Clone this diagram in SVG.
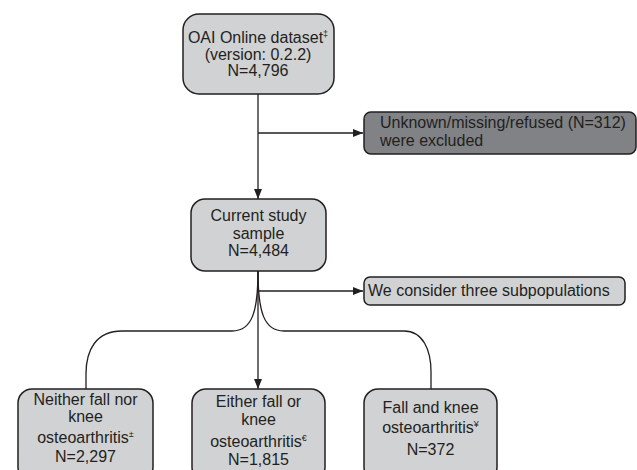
<svg xmlns="http://www.w3.org/2000/svg" width="637" height="470" viewBox="0 0 637 470">
  <style>
    .box { fill: #d1d2d4; stroke: #231f20; stroke-width: 1.5; }
    .dark { fill: #808285; stroke: #231f20; stroke-width: 1.5; }
    .t { font-family: "Liberation Sans", Arial, sans-serif; font-size: 16px; fill: #231f20; }
    .c { text-anchor: middle; }
    .sup { font-size: 9px; }
    .ln { fill: none; stroke: #231f20; stroke-width: 1.3; }
  </style>
  <defs>
    <marker id="arr" markerUnits="userSpaceOnUse" markerWidth="10" markerHeight="8" refX="10" refY="4" orient="auto">
      <path d="M0,0 L10,4 L0,8 Z" fill="#231f20"/>
    </marker>
  </defs>
  <rect width="637" height="470" fill="#ffffff"/>

  <g id="connectors">
    <line class="ln" x1="258" y1="94" x2="258" y2="199" marker-end="url(#arr)"/>
    <line class="ln" x1="258" y1="133" x2="363" y2="133" marker-end="url(#arr)"/>
    <line class="ln" x1="258" y1="271" x2="258" y2="389" marker-end="url(#arr)"/>
    <line class="ln" x1="258" y1="291" x2="363" y2="291" marker-end="url(#arr)"/>
    <path class="ln" d="M258,271 C258,312 252,331 232,331 L122,331 C96,331 86,350 86,374 L86,389"/>
    <path class="ln" d="M258,271 C258,312 264,331 284,331 L404,331 C423,331 431,350 431,372 L431,389"/>
  </g>

  <g id="node-oai">
    <rect class="box" x="183" y="14" width="151" height="80" rx="16"/>
    <text class="t c" x="258" y="43">OAI Online dataset<tspan class="sup" dy="-6">‡</tspan></text>
    <text class="t c" x="258" y="60">(version: 0.2.2)</text>
    <text class="t c" x="258" y="76">N=4,796</text>
  </g>

  <g id="node-excluded">
    <rect class="dark" x="364" y="112" width="272" height="42" rx="7"/>
    <text class="t" x="380" y="128">Unknown/missing/refused (N=312)</text>
    <text class="t" x="380" y="146">were excluded</text>
  </g>

  <g id="node-current">
    <rect class="box" x="191" y="199" width="135" height="72" rx="14"/>
    <text class="t c" x="258.5" y="221">Current study</text>
    <text class="t c" x="258.5" y="239">sample</text>
    <text class="t c" x="258.5" y="256">N=4,484</text>
  </g>

  <g id="node-consider">
    <rect class="box" x="364" y="277" width="261" height="28" rx="6"/>
    <text class="t" x="368" y="296">We consider three subpopulations</text>
  </g>

  <g id="node-neither">
    <rect class="box" x="18" y="389" width="135" height="92" rx="14"/>
    <text class="t c" x="85.5" y="405">Neither fall nor</text>
    <text class="t c" x="85.5" y="422">knee</text>
    <text class="t c" x="85.5" y="443">osteoarthritis<tspan class="sup" dy="-6">±</tspan></text>
    <text class="t c" x="85.5" y="462">N=2,297</text>
  </g>

  <g id="node-either">
    <rect class="box" x="192" y="389" width="133" height="92" rx="14"/>
    <text class="t c" x="258.5" y="407">Either fall or</text>
    <text class="t c" x="258.5" y="425">knee</text>
    <text class="t c" x="258.5" y="447">osteoarthritis<tspan class="sup" dy="-6">€</tspan></text>
    <text class="t c" x="258.5" y="465">N=1,815</text>
  </g>

  <g id="node-both">
    <rect class="box" x="364" y="389" width="133" height="92" rx="14"/>
    <text class="t c" x="430.5" y="413">Fall and knee</text>
    <text class="t c" x="430.5" y="433">osteoarthritis<tspan class="sup" dy="-6">¥</tspan></text>
    <text class="t c" x="430.5" y="455">N=372</text>
  </g>
</svg>
